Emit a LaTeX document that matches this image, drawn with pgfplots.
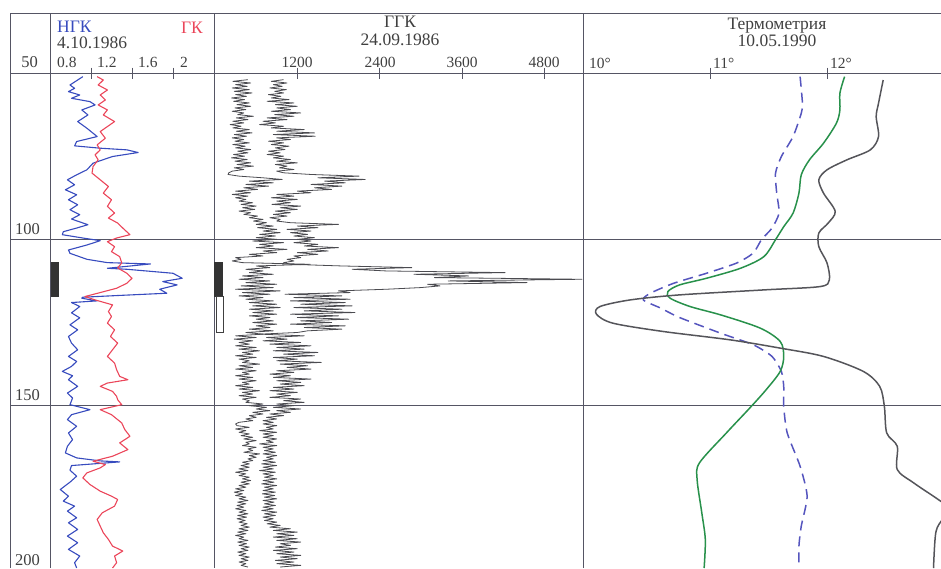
\documentclass[border=0pt]{standalone}
\usepackage{fontspec}
\setmainfont{Liberation Serif}
\usepackage{pgfplots}
\usepackage{pgfplotstable}
\pgfplotsset{compat=1.18}
\definecolor{frame}{RGB}{85,85,100}
\definecolor{ngk}{RGB}{55,75,190}
\definecolor{gk}{RGB}{235,70,90}
\definecolor{ggk}{RGB}{75,75,80}
\definecolor{tdash}{RGB}{85,85,190}
\definecolor{tgreen}{RGB}{40,145,75}
\definecolor{tgray}{RGB}{85,85,90}
\newcommand\hf{\fontsize{17.5}{17.5}\selectfont}
\newcommand\df{\fontsize{16.5}{16.5}\selectfont}
\newcommand\tf{\fontsize{15.5}{15.5}\selectfont}

% GGK: depth, left curve, right curve
\pgfplotstableread{
d L R
52.0 480 1000
52.5 260 820
53.0 520 1050
53.5 300 850
54.0 470 980
54.5 250 800
55.0 500 1040
55.5 280 870
56.0 540 1000
56.5 300 780
57.0 460 960
57.5 240 820
58.0 430 1080
58.5 270 760
59.0 500 1150
59.5 320 880
60.0 520 1200
60.5 290 900
61.0 450 1100
61.5 250 820
62.0 420 1250
62.5 330 870
63.0 560 1150
63.5 310 760
64.0 480 1050
64.5 260 700
65.0 420 880
65.5 220 650
66.0 380 1000
66.5 260 820
67.0 500 1300
67.5 310 900
68.0 540 1450
68.5 280 850
69.0 460 1460
69.5 250 900
70.0 420 1100
70.5 290 780
71.0 500 1000
71.5 260 820
72.0 440 1080
72.5 300 880
73.0 520 1020
73.5 330 780
74.0 480 950
74.5 270 760
75.0 430 1000
75.5 240 850
76.0 470 1100
76.5 290 900
77.0 520 1200
77.5 320 880
78.0 560 1050
78.5 280 940
79.0 420 1150
79.5 250 900
80.0 200 1000
80.5 190 1400
81.0 350 2100
81.5 700 1500
82.0 980 2190
82.5 500 1600
83.0 850 1900
83.5 450 1400
84.0 780 1850
84.5 420 1450
85.0 620 1700
85.5 300 1200
86.0 520 1400
86.5 250 900
87.0 480 1150
87.5 300 820
88.0 450 1200
88.5 350 900
89.0 550 1100
89.5 380 830
90.0 600 1250
90.5 400 950
91.0 580 1200
91.5 350 880
92.0 520 1100
92.5 420 850
93.0 620 1050
93.5 500 800
94.0 700 950
94.5 560 900
95.0 750 1100
95.5 600 1800
96.0 850 1200
96.5 620 1500
97.0 900 1050
97.5 700 1400
98.0 950 1100
98.5 650 1350
99.0 880 1150
99.5 600 1450
100.0 900 1200
100.5 550 1400
101.0 1000 1150
101.5 650 1500
102.0 850 1300
102.5 600 1800
103.0 1050 1350
103.5 700 1650
104.0 900 1200
104.5 500 1500
105.0 700 1150
105.5 300 1250
106.0 380 1050
106.5 250 1150
107.0 400 1000
107.5 1390 1100
108.0 600 1850
108.5 800 2870
109.0 450 2000
109.5 700 2500
110.0 500 4230
110.5 850 2900
111.0 400 3700
111.5 700 3200
112.0 350 5350
112.5 800 3400
113.0 450 4550
113.5 900 3100
114.0 380 3280
114.5 850 3000
115.0 300 2500
115.5 950 1800
116.0 400 1970
116.5 800 1020
117.0 350 1850
117.5 700 1150
118.0 450 1970
118.5 850 1100
119.0 500 1900
119.5 900 1250
120.0 550 2000
120.5 950 1150
121.0 500 1850
121.5 850 1300
122.0 550 2040
122.5 900 1100
123.0 500 1800
123.5 800 1200
124.0 600 1950
124.5 850 1250
125.0 550 1700
125.5 900 1100
126.0 600 1900
126.5 800 1300
127.0 500 1850
127.5 850 1350
128.0 450 1200
128.5 700 650
129.0 300 1300
129.5 600 750
130.0 280 1050
130.5 550 700
131.0 350 1250
131.5 500 800
132.0 300 1400
132.5 600 900
133.0 350 1300
133.5 650 850
134.0 400 1500
134.5 550 1000
135.0 300 1450
135.5 600 850
136.0 350 1200
136.5 500 900
137.0 400 1550
137.5 650 950
138.0 350 1350
138.5 550 1050
139.0 300 1400
139.5 600 900
140.0 400 1150
140.5 500 800
141.0 300 1100
141.5 550 850
142.0 350 1400
142.5 600 900
143.0 400 1250
143.5 500 950
144.0 300 1300
144.5 550 850
145.0 350 1150
145.5 650 800
146.0 400 1200
146.5 550 900
147.0 350 1100
147.5 600 800
148.0 400 1250
148.5 500 1000
149.0 450 1300
149.5 700 900
150.0 500 1150
150.5 750 850
151.0 600 1250
151.5 800 900
152.0 550 1100
152.5 700 800
153.0 500 1000
153.5 600 750
154.0 450 900
154.5 550 700
155.0 350 850
155.5 300 700
156.0 320 900
156.5 500 750
157.0 300 850
157.5 450 650
158.0 350 900
158.5 500 700
159.0 380 850
159.5 550 700
160.0 420 900
160.5 600 750
161.0 450 850
161.5 500 650
162.0 400 900
162.5 600 700
163.0 480 850
163.5 550 720
164.0 420 880
164.5 650 700
165.0 500 900
165.5 600 750
166.0 480 850
166.5 550 700
167.0 400 880
167.5 500 680
168.0 380 900
168.5 500 700
169.0 350 850
169.5 480 650
170.0 300 880
170.5 450 700
171.0 350 850
171.5 500 720
172.0 400 900
172.5 520 700
173.0 380 860
173.5 500 680
174.0 350 900
174.5 450 720
175.0 300 850
175.5 420 700
176.0 280 880
176.5 400 690
177.0 300 870
177.5 450 720
178.0 350 900
178.5 480 700
179.0 330 860
179.5 450 720
180.0 320 880
180.5 420 700
181.0 300 850
181.5 450 680
182.0 350 900
182.5 480 720
183.0 330 880
183.5 460 700
184.0 320 850
184.5 440 720
185.0 350 900
185.5 470 760
186.0 380 950
186.5 500 800
187.0 350 1100
187.5 480 850
188.0 330 1200
188.5 450 900
189.0 300 1150
189.5 420 850
190.0 350 1200
190.5 480 900
191.0 330 1250
191.5 460 950
192.0 350 1100
192.5 500 880
193.0 380 1200
193.5 480 850
194.0 330 1150
194.5 450 900
195.0 350 1250
195.5 500 950
196.0 380 1200
196.5 480 880
197.0 350 1150
197.5 450 900
198.0 380 1250
198.5 480 950
}\ggktable

\pgfplotsset{track/.style={
  scale only axis, anchor=north west, height=495pt,
  ymin=50, ymax=198.8, y dir=reverse,
  axis x line*=top, axis y line=none,
  axis line style={draw=none},
  xticklabels={}, tick align=center, major tick length=11pt,
  xtick style={draw=frame, line width=0.8pt},
  clip=true}}

\begin{document}
\begin{tikzpicture}
\useasboundingbox (0,0) rectangle (941pt,-568pt);
\begin{scope}[x=1pt,y=-1pt]
\draw[frame, line width=0.9pt] (10,13) -- (941,13);
\draw[frame, line width=0.9pt] (10,73) -- (941,73);
\draw[frame, line width=0.9pt] (10,239.3) -- (941,239.3);
\draw[frame, line width=0.9pt] (10,405.7) -- (941,405.7);
\draw[frame, line width=0.9pt] (10,13) -- (10,568);
\draw[frame, line width=0.9pt] (50,13) -- (50,568);
\draw[frame, line width=0.9pt] (214,13) -- (214,568);
\draw[frame, line width=0.9pt] (583,13) -- (583,568);
% depth labels
\node[anchor=base east, inner sep=0, font=\df, text=black!75] at (38,67) {50};
\node[anchor=base east, inner sep=0, font=\df, text=black!75] at (40,234) {100};
\node[anchor=base east, inner sep=0, font=\df, text=black!75] at (40,400) {150};
\node[anchor=base east, inner sep=0, font=\df, text=black!75] at (40,565) {200};
% track 1 header
\node[anchor=base west, inner sep=0, font=\hf, text=ngk] at (57,32) {НГК};
\node[anchor=base east, inner sep=0, font=\hf, text=gk] at (203,33) {ГК};
\node[anchor=base west, inner sep=0, font=\hf, text=black!75] at (57,48) {4.10.1986};
\node[anchor=base west, inner sep=0, font=\tf, text=black!75] at (57,67) {0.8};
\node[anchor=base west, inner sep=0, font=\tf, text=black!75] at (97,67) {1.2};
\node[anchor=base west, inner sep=0, font=\tf, text=black!75] at (138,67) {1.6};
\node[anchor=base west, inner sep=0, font=\tf, text=black!75] at (180,67) {2};
% track 2 header
\node[anchor=base, inner sep=0, font=\hf, text=black!75] at (400,27.5) {ГГК};
\node[anchor=base, inner sep=0, font=\hf, text=black!75] at (400,45) {24.09.1986};
\node[anchor=base, inner sep=0, font=\tf, text=black!75] at (297,67) {1200};
\node[anchor=base, inner sep=0, font=\tf, text=black!75] at (380,67) {2400};
\node[anchor=base, inner sep=0, font=\tf, text=black!75] at (462,67) {3600};
\node[anchor=base, inner sep=0, font=\tf, text=black!75] at (544,67) {4800};
% track 3 header
\node[anchor=base, inner sep=0, font=\hf, text=black!75] at (777,29) {Термометрия};
\node[anchor=base, inner sep=0, font=\hf, text=black!75] at (777,46) {10.05.1990};
\node[anchor=base west, inner sep=0, font=\tf, text=black!75] at (589,68) {10°};
\node[anchor=base west, inner sep=0, font=\tf, text=black!75] at (713,68) {11°};
\node[anchor=base west, inner sep=0, font=\tf, text=black!75] at (830,68) {12°};
\end{scope}

% Track 1: NGK / GK
\begin{axis}[track, at={(50pt,-73pt)}, width=164pt, xmin=0.8, xmax=2.4, xtick={1.2,1.6,2}]
\addplot[draw=none, fill=black!80] coordinates {(0.81,106.7) (0.888,106.7) (0.888,117.2) (0.81,117.2)} -- cycle;
\addplot[ngk, line width=1.1pt, line join=round] coordinates {
(1.12,51.1) (0.995,53.6) (1.04,54.6) (0.98,55.6) (1.09,56.6) (1.01,57.6) (1.19,58.6) (1.24,59.6) (1.11,61.1) (1.17,62.6) (1.07,64.6) (1.16,66.6) (1.26,69.1) (1.06,70.6) (1.04,71.9) (1.29,72.6) (1.55,73.1) (1.66,73.9) (1.41,75.1) (1.22,77.1) (1.16,79.1) (1.06,80.6) (0.97,82.1) (1.04,83.6) (0.95,85.1) (1.06,86.6) (0.98,88.1) (1.07,89.6) (0.995,91.1) (1.09,92.6) (1.01,93.9) (1.17,95.6) (1.06,96.6) (0.93,97.7) (0.92,98.6) (1.12,99.6) (1.29,100.4) (1.16,101.7) (0.98,103.2) (0.995,104.2) (1.16,106.0) (1.36,107.0) (1.78,107.4) (1.36,108.7) (1.55,109.0) (2.0,110.2) (2.09,111.7) (1.90,112.7) (2.04,113.7) (1.87,115.0) (1.94,116.2) (1.45,116.9) (1.12,117.4) (1.11,117.7) (1.26,118.5) (1.01,119.0) (1.09,120.2) (1.01,122.1) (1.09,123.6) (0.995,125.7) (1.07,127.2) (0.98,129.2) (1.01,131.2) (1.07,133.2) (0.98,135.2) (1.06,136.7) (1.01,138.2) (0.92,139.7) (1.02,141.0) (0.98,142.2) (1.07,144.2) (0.97,146.2) (1.02,147.7) (0.995,149.7) (1.19,151.2) (1.01,152.7) (0.97,154.2) (1.06,156.2) (0.98,158.2) (1.02,160.2) (0.97,162.2) (0.95,164.2) (1.06,165.7) (1.29,166.6) (1.48,166.9) (1.01,168.0) (0.995,169.4) (1.06,171.2) (0.995,173.0) (0.90,175.2) (0.98,177.2) (0.93,178.7) (1.04,180.2) (0.97,181.7) (1.06,183.7) (0.98,185.2) (1.07,187.2) (0.97,189.2) (1.07,191.2) (0.98,193.2) (1.09,195.2) (1.04,197.2) (1.06,198.8)};
\addplot[gk, line width=1.1pt, line join=round] coordinates {
(1.26,51.1) (1.32,52.1) (1.27,53.6) (1.36,55.1) (1.29,56.6) (1.34,58.1) (1.27,59.6) (1.36,61.1) (1.32,62.6) (1.43,64.6) (1.36,66.1) (1.29,67.6) (1.34,69.6) (1.26,71.6) (1.29,73.1) (1.24,74.6) (1.27,76.1) (1.22,78.1) (1.21,80.1) (1.29,82.1) (1.37,84.1) (1.32,86.1) (1.40,88.1) (1.36,90.1) (1.43,92.1) (1.37,93.6) (1.46,95.1) (1.51,96.6) (1.58,98.6) (1.45,99.6) (1.36,100.7) (1.43,102.2) (1.40,103.7) (1.48,105.2) (1.50,107.1) (1.46,108.6) (1.55,110.2) (1.60,111.7) (1.55,113.2) (1.45,114.7) (1.29,116.0) (1.14,117.2) (1.24,118.2) (1.41,119.7) (1.37,121.7) (1.40,123.2) (1.36,125.2) (1.43,127.2) (1.39,129.2) (1.46,131.2) (1.41,133.2) (1.36,135.2) (1.43,137.2) (1.45,139.2) (1.48,141.2) (1.56,142.2) (1.36,143.2) (1.29,144.2) (1.41,145.7) (1.45,147.2) (1.46,148.2) (1.50,149.7) (1.29,151.2) (1.40,152.7) (1.50,155.2) (1.53,157.2) (1.58,159.2) (1.48,161.2) (1.56,163.2) (1.41,165.2) (1.22,166.7) (1.34,167.7) (1.29,168.7) (1.16,170.2) (1.12,171.7) (1.19,173.7) (1.29,175.7) (1.40,177.2) (1.46,178.2) (1.43,180.2) (1.31,182.2) (1.26,184.2) (1.29,186.2) (1.32,188.2) (1.37,190.2) (1.41,192.2) (1.51,193.7) (1.43,195.2) (1.45,197.2) (1.41,198.8)};
\end{axis}

% Track 2: GGK
\begin{axis}[track, at={(214pt,-73pt)}, width=369pt, xmin=-15, xmax=5366, xtick={1200,2400,3600,4800}]
\addplot[draw=none, fill=black!80] coordinates {(-15,106.7) (117,106.7) (117,117.2) (-15,117.2)} -- cycle;
\addplot[draw=black!75, fill=white, line width=0.7pt] coordinates {(15,117.2) (117,117.2) (117,128.0) (15,128.0)} -- cycle;
\addplot[ggk, line width=0.8pt, line join=round] table[x=L, y=d] {\ggktable};
\addplot[ggk, line width=0.8pt, line join=round] table[x=R, y=d] {\ggktable};
\end{axis}

% Track 3: thermometry
\begin{axis}[track, at={(583pt,-73pt)}, width=358pt, xmin=9.915, xmax=12.974, xtick={11,12}]
\addplot[tdash, line width=1.5pt, dash pattern=on 10pt off 6pt, smooth, tension=0.4] coordinates {
(11.77,51.1) (11.79,59.1) (11.78,62.1) (11.71,69.1) (11.61,75.1) (11.56,80.1) (11.57,86.1) (11.59,92.1) (11.53,96.6) (11.44,100.1) (11.37,104.1) (11.23,107.1) (10.97,110.2) (10.69,113.2) (10.49,116.2) (10.43,118.2) (10.58,120.7) (10.74,123.5) (11.09,128.2) (11.37,131.7) (11.53,135.2) (11.61,139.7) (11.63,144.2) (11.63,150.2) (11.66,158.2) (11.77,168.2) (11.83,177.2) (11.78,186.2) (11.76,192.2) (11.76,198.8)};
\addplot[tgreen, line width=1.5pt, smooth, tension=0.5] coordinates {
(12.15,51.1) (12.11,56.1) (12.11,61.1) (12.08,65.1) (11.97,71.1) (11.85,76.1) (11.78,80.6) (11.76,86.1) (11.71,92.1) (11.63,96.2) (11.56,100.1) (11.46,105.2) (11.26,108.7) (10.97,111.7) (10.74,113.7) (10.64,115.7) (10.66,117.7) (10.83,120.2) (11.10,122.8) (11.43,126.7) (11.60,130.7) (11.63,135.2) (11.60,139.7) (11.48,145.2) (11.34,150.7) (11.14,158.2) (10.91,167.2) (10.89,172.2) (10.93,182.2) (10.96,190.2) (10.95,198.8)};
\addplot[tgray, line width=1.5pt, smooth, tension=0.5] coordinates {
(12.48,52.1) (12.44,59.1) (12.42,63.1) (12.44,69.1) (12.37,73.1) (12.17,76.1) (12.00,79.1) (11.93,82.1) (11.97,86.1) (12.07,91.6) (12.01,95.1) (11.93,98.1) (11.93,102.2) (12.00,107.1) (12.02,112.2) (11.94,114.2) (11.46,115.2) (10.74,116.7) (10.32,118.2) (10.06,120.2) (10.03,122.5) (10.17,125.2) (10.60,127.7) (11.17,130.2) (11.60,132.7) (11.97,135.2) (12.31,139.7) (12.45,144.2) (12.49,150.2) (12.51,158.2) (12.60,162.2) (12.60,169.2) (12.74,173.2) (12.95,178.2) (13.05,181) (12.99,184) (12.93,188) (12.91,198.8)};
\end{axis}
\end{tikzpicture}
\end{document}
